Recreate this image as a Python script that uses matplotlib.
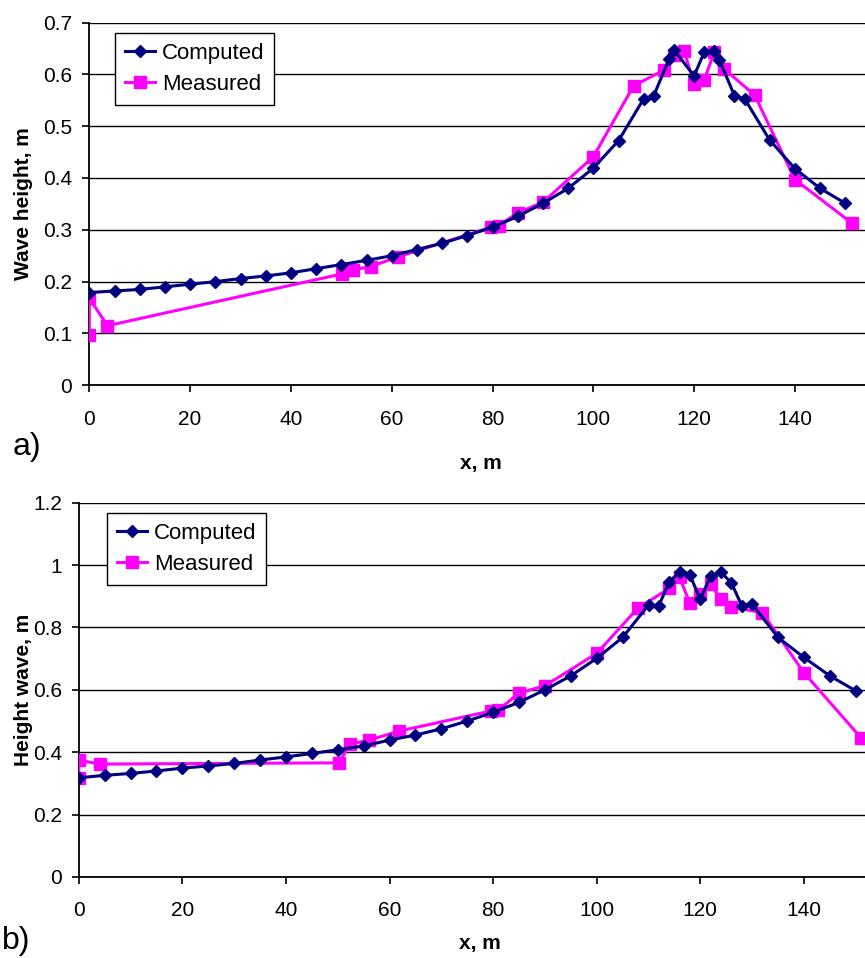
import matplotlib
matplotlib.use("Agg")
import matplotlib.pyplot as plt

plt.rcParams['font.family'] = ['Liberation Sans', 'DejaVu Sans']

# ---- panel a) ----
cx_a = [0, 5, 10, 15, 20, 25, 30, 35, 40, 45, 50, 55, 60, 65, 70, 75, 80, 85, 90, 95,
        100, 105, 110, 112, 115, 116, 120, 122, 124, 125, 128, 130, 135, 140, 145, 150]
cy_a = [0.179, 0.182, 0.185, 0.190, 0.195, 0.200, 0.206, 0.211, 0.217, 0.225, 0.233, 0.241,
        0.250, 0.262, 0.274, 0.289, 0.305, 0.326, 0.351, 0.380, 0.419, 0.472, 0.553, 0.559,
        0.629, 0.647, 0.597, 0.643, 0.645, 0.628, 0.559, 0.553, 0.473, 0.418, 0.380, 0.351]
mx_a = [0, 0, 3.6, 50.2, 52.3, 55.8, 61.3, 79.7, 81.3, 85, 90, 100, 108, 114, 116, 118,
        120, 122, 124, 126, 132, 140, 151.3]
my_a = [0.097, 0.168, 0.115, 0.215, 0.223, 0.229, 0.248, 0.305, 0.308, 0.333, 0.353, 0.441,
        0.578, 0.608, 0.637, 0.645, 0.582, 0.589, 0.643, 0.610, 0.560, 0.397, 0.313]

# ---- panel b) ----
cx_b = [0, 5, 10, 15, 20, 25, 30, 35, 40, 45, 50, 55, 60, 65, 70, 75, 80, 85, 90, 95,
        100, 105, 110, 112, 114, 116, 118, 120, 122, 124, 126, 128, 130, 135, 140, 145, 150]
cy_b = [0.318, 0.326, 0.332, 0.340, 0.349, 0.356, 0.364, 0.375, 0.385, 0.396, 0.408, 0.420,
        0.439, 0.455, 0.475, 0.500, 0.528, 0.560, 0.600, 0.645, 0.701, 0.768, 0.872, 0.870,
        0.947, 0.977, 0.968, 0.890, 0.965, 0.977, 0.943, 0.870, 0.875, 0.768, 0.704, 0.645, 0.597]
mx_b = [0, 0, 4, 50.2, 52.4, 56.1, 61.9, 79.5, 81, 85, 90, 100, 108, 114, 116, 118, 120,
        122, 124, 126, 132, 140, 151.1]
my_b = [0.318, 0.375, 0.362, 0.366, 0.426, 0.439, 0.468, 0.532, 0.535, 0.590, 0.613, 0.717,
        0.863, 0.925, 0.961, 0.877, 0.906, 0.939, 0.890, 0.866, 0.847, 0.655, 0.445]

NAVY = '#000080'
MAG = '#FF00FF'
W, H = 865, 958

fig = plt.figure(figsize=(W / 100, H / 100), dpi=100)


def px_axes(left, right, top, bottom):
    return fig.add_axes([left / W, 1 - bottom / H, (right - left) / W, (bottom - top) / H])


def style(ax, xlim, ylim, yticks, yfmt, ylabel, xlab_xy, ylab_x, ypad):
    ax.set_xlim(*xlim)
    ax.set_ylim(*ylim)
    ax.set_xticks([0, 20, 40, 60, 80, 100, 120, 140])
    ax.set_yticks(yticks)
    ax.set_yticklabels([yfmt(v) for v in yticks])
    for s in ('top', 'right'):
        ax.spines[s].set_visible(False)
    for s in ('left', 'bottom'):
        ax.spines[s].set_linewidth(1.3)
        ax.spines[s].set_color('black')
    ax.yaxis.grid(True, color='black', linewidth=1.0)
    ax.set_axisbelow(True)
    ax.tick_params(axis='both', direction='out', length=5, width=1.2, labelsize=15)
    ax.tick_params(axis='x', pad=12.5)
    ax.tick_params(axis='y', pad=ypad)
    ax.set_xlabel('x, m', fontsize=15, fontweight='bold')
    ax.xaxis.set_label_coords(*xlab_xy)
    ax.set_ylabel(ylabel, fontsize=15, fontweight='bold')
    ax.yaxis.set_label_coords(ylab_x, 0.5)


def add_legend(ax, left_px, top_px, ax_l, ax_r, ax_t, ax_b):
    leg = ax.legend(loc='upper left',
                    bbox_to_anchor=((left_px - ax_l) / (ax_r - ax_l), 1 - (top_px - ax_t) / (ax_b - ax_t)),
                    fontsize=16, frameon=True, fancybox=False, edgecolor='black',
                    handlelength=1.35, borderpad=0.45, labelspacing=0.45, handletextpad=0.3,
                    borderaxespad=0, framealpha=1)
    leg.get_frame().set_linewidth(1.0)


# panel a
A = (89.3, 865, 22.5, 385.3)
ax1 = px_axes(*A)
ax1.plot(cx_a, cy_a, color=NAVY, lw=2.2, marker='D', ms=6.5, mfc=NAVY, mec=NAVY,
         label='Computed', zorder=4)
ax1.plot(mx_a, my_a, color=MAG, lw=2.2, marker='s', ms=9, mfc=MAG, mec=MAG,
         label='Measured', zorder=3)
style(ax1, (0, 153.9), (0, 0.7), [0, 0.1, 0.2, 0.3, 0.4, 0.5, 0.6, 0.7],
      lambda v: '0' if v == 0 else f'{v:.1f}', 'Wave height, m',
      (0.505, -0.189), -0.0726, 7.5)
add_legend(ax1, 115, 33, *A)
fig.text(13 / W, 1 - 447 / H, 'a)', fontsize=23, va='center', ha='left')

# panel b
B = (78.8, 865, 502.7, 877)
ax2 = px_axes(*B)
ax2.plot(cx_b, cy_b, color=NAVY, lw=2.2, marker='D', ms=6.5, mfc=NAVY, mec=NAVY,
         label='Computed', zorder=4)
ax2.plot(mx_b, my_b, color=MAG, lw=2.2, marker='s', ms=9, mfc=MAG, mec=MAG,
         label='Measured', zorder=3)
style(ax2, (0, 151.8), (0, 1.2), [0, 0.2, 0.4, 0.6, 0.8, 1.0, 1.2],
      lambda v: '0' if v == 0 else ('1' if abs(v - 1) < 1e-9 else f'{v:.1f}'),
      'Height wave, m', (0.51, -0.152), -0.0583, 7)
add_legend(ax2, 107, 513, *B)
fig.text(2 / W, 1 - 941 / H, 'b)', fontsize=23, va='center', ha='left')

fig.savefig('out.png', dpi=100)
